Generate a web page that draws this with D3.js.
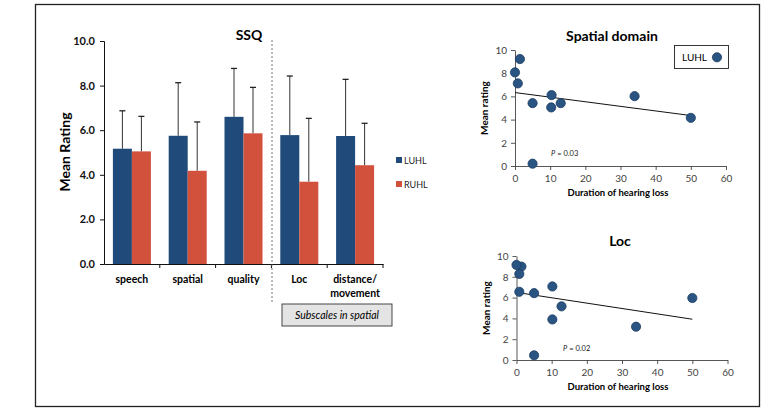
<!DOCTYPE html>
<html><head><meta charset="utf-8">
<script src="https://cdn.jsdelivr.net/npm/d3@7"></script>
<style>body{margin:0;background:#fff}svg{display:block}text{font-family:Lato,"Open Sans",sans-serif}</style>
</head><body><svg id="c" width="770" height="414"></svg>
<script>
// Bar chart data
const categories = ["speech","spatial","quality","Loc","distance/movement"];
const seriesNames = ["LUHL","RUHL"];
const luhlMeans = [5.17,5.75,6.6,5.78,5.74];
const ruhlMeans = [5.05,4.18,5.86,3.69,4.43];
const luhlErrTop = [6.87,8.13,8.77,8.43,8.28];
const ruhlErrTop = [6.62,6.37,7.92,6.53,6.31];
const barTicks = [0,2,4,6,8,10];

// Scatter: Spatial domain
const spatialDur = [0,1.4,0.8,5,10.4,10.3,13,34,50,5];
const spatialRating = [8.07,9.22,7.12,5.42,6.11,5.05,5.42,6.02,4.15,0.2];
const spatialTrend = [[0,6.33],[50,4.35]];
// Scatter: Loc
const locDur = [1.4,0,0.8,0.8,5,10.2,12.8,10.2,34,50,5];
const locRating = [8.98,9.14,8.28,6.56,6.43,7.07,5.16,3.9,3.2,5.96,0.45];
const locTrend = [[0,6.5],[50,3.92]];
const scatterXTicks = [0,10,20,30,40,50,60];
const scatterYTicks = [0,2,4,6,8,10];

const colors = {LUHL:"#1f4a7a", RUHL:"#d1513d"};
const svg = d3.select("#c");

// outer frame
svg.append("rect").attr("x",35.5).attr("y",4.5).attr("width",724).attr("height",402)
  .attr("fill","none").attr("stroke","#222").attr("stroke-width",1.3);

// ---------- Bar chart ----------
const bx = d3.scaleBand().domain(categories).range([104,383]);
const by = d3.scaleLinear().domain([0,10]).range([264,41]);
const inner = d3.scaleBand().domain(seriesNames).range([0,38]);
const pairOff = (bx.bandwidth()-38)/2;

const yAx = svg.append("g").attr("transform","translate(104,0)")
  .call(d3.axisLeft(by).tickValues(barTicks).tickFormat(d3.format(".1f")).tickSizeOuter(0).tickSize(4));
yAx.selectAll("text").attr("font-size",11).attr("font-weight","bold").attr("fill","#111").attr("dx",-2);
yAx.selectAll("line,path").attr("stroke","#111");

const xAx = svg.append("g").attr("transform","translate(0,264)")
  .call(d3.axisBottom(bx).tickSize(0).tickFormat(""));
xAx.select("path").attr("stroke","#111");
// category tick marks at band boundaries
svg.append("g").selectAll("line").data(categories).join("line")
  .attr("x1",d=>bx(d)+bx.bandwidth()).attr("x2",d=>bx(d)+bx.bandwidth())
  .attr("y1",264).attr("y2",268).attr("stroke","#111");

const barData = [];
categories.forEach((c,i)=>{
  barData.push({c,s:"LUHL",v:luhlMeans[i],e:luhlErrTop[i]});
  barData.push({c,s:"RUHL",v:ruhlMeans[i],e:ruhlErrTop[i]});
});
const bg = svg.append("g");
bg.selectAll("line.err").data(barData).join("line").attr("class","err")
  .attr("x1",d=>bx(d.c)+pairOff+inner(d.s)+inner.bandwidth()/2)
  .attr("x2",d=>bx(d.c)+pairOff+inner(d.s)+inner.bandwidth()/2)
  .attr("y1",d=>by(d.v)).attr("y2",d=>by(d.e)).attr("stroke","#333").attr("stroke-width",1);
bg.selectAll("line.cap").data(barData).join("line").attr("class","cap")
  .attr("x1",d=>bx(d.c)+pairOff+inner(d.s)+inner.bandwidth()/2-3)
  .attr("x2",d=>bx(d.c)+pairOff+inner(d.s)+inner.bandwidth()/2+3)
  .attr("y1",d=>by(d.e)).attr("y2",d=>by(d.e)).attr("stroke","#222").attr("stroke-width",1.3);
bg.selectAll("rect").data(barData).join("rect")
  .attr("x",d=>bx(d.c)+pairOff+inner(d.s)).attr("width",inner.bandwidth())
  .attr("y",d=>by(d.v)).attr("height",d=>by(0)-by(d.v)).attr("fill",d=>colors[d.s]);

// category labels
const labG = svg.append("g");
categories.forEach(c=>{
  const cx = bx(c)+bx.bandwidth()/2;
  const lines = c==="distance/movement" ? ["distance/","movement"] : [c];
  lines.forEach((t,k)=>{
    labG.append("text").attr("x",cx).attr("y",283+k*14).attr("text-anchor","middle")
      .attr("font-size",10.5).attr("font-weight","bold").text(t);
  });
});

// dashed separator
svg.append("line").attr("x1",272).attr("x2",272).attr("y1",40).attr("y2",303)
  .attr("stroke","#666").attr("stroke-dasharray","2,2").attr("stroke-width",0.9);

// title
svg.append("text").attr("x",249).attr("y",40).attr("text-anchor","middle").attr("font-size",14).attr("font-weight","bold").text("SSQ");
// y title
svg.append("text").attr("transform","translate(70,152) rotate(-90)").attr("text-anchor","middle")
  .attr("font-size",14).attr("font-weight","bold").text("Mean Rating");

// subscales box
svg.append("rect").attr("x",282).attr("y",304).attr("width",110).attr("height",22)
  .attr("fill","#e4e4e4").attr("stroke","#333").attr("stroke-width",0.9);
svg.append("text").attr("x",337).attr("y",319).attr("text-anchor","middle").attr("font-size",10.5)
  .attr("font-style","italic").text("Subscales in spatial");

// legend
seriesNames.forEach((s,i)=>{
  svg.append("rect").attr("x",396).attr("y",157+i*24).attr("width",6).attr("height",6).attr("fill",colors[s]);
  svg.append("text").attr("x",404).attr("y",163.5+i*24).attr("font-size",9).attr("fill","#222").text(s);
});

// ---------- Scatter plots ----------
function scatter(opt){
  const x = d3.scaleLinear().domain([0,60]).range([opt.x0,opt.x1]);
  const y = d3.scaleLinear().domain([0,10]).range([opt.y0,opt.y1]);
  const g = svg.append("g");
  const ya = g.append("g").attr("transform",`translate(${opt.x0},0)`)
    .call(d3.axisLeft(y).tickValues(scatterYTicks).tickSize(4).tickSizeOuter(0));
  const xa = g.append("g").attr("transform",`translate(0,${opt.y0})`)
    .call(d3.axisBottom(x).tickValues(scatterXTicks).tickSize(4).tickSizeOuter(0));
  [ya,xa].forEach(a=>{
    a.selectAll("path,line").attr("stroke","#444").attr("stroke-width",0.9);
    a.selectAll("text").attr("font-size",10).attr("fill","#444").attr("font-family","'Open Sans',sans-serif");
  });
  ya.selectAll("text").attr("dx",-1);
  xa.selectAll("text").attr("dy","0.85em");
  g.append("line").attr("x1",x(opt.trend[0][0])).attr("y1",y(opt.trend[0][1]))
    .attr("x2",x(opt.trend[1][0])).attr("y2",y(opt.trend[1][1])).attr("stroke","#111").attr("stroke-width",1);
  g.selectAll("circle").data(opt.xs.map((v,i)=>[v,opt.ys[i]])).join("circle")
    .attr("cx",d=>x(d[0])).attr("cy",d=>y(d[1])).attr("r",4.6)
    .attr("fill","#2a5482").attr("stroke","#1c3d63").attr("stroke-width",0.8);
  g.append("text").attr("x",opt.titleX).attr("y",opt.titleY).attr("text-anchor","middle")
    .attr("font-size",14).attr("font-weight","bold").text(opt.title);
  g.append("text").attr("x",618).attr("y",opt.y0+30).attr("text-anchor","middle")
    .attr("font-size",9.5).attr("font-weight","bold").text("Duration of hearing loss");
  g.append("text").attr("transform",`translate(${opt.x0-27},${(opt.y0+opt.y1)/2}) rotate(-90)`)
    .attr("text-anchor","middle").attr("font-size",10).attr("font-weight","bold").text("Mean rating");
  const pt = g.append("text").attr("x",opt.px).attr("y",opt.py).attr("font-size",7.5).attr("fill","#222");
  pt.append("tspan").attr("font-style","italic").text("P");
  pt.append("tspan").text(" = "+opt.p);
  return {x,y,g};
}

scatter({x0:515,x1:726,y0:166,y1:50,xs:spatialDur,ys:spatialRating,trend:spatialTrend,
  title:"Spatial domain",titleX:612,titleY:41,px:551,py:156,p:"0.03"});
scatter({x0:516.5,x1:727.5,y0:360,y1:256,xs:locDur,ys:locRating,trend:locTrend,
  title:"Loc",titleX:620,titleY:246,px:563,py:351,p:"0.02"});

// legend in Spatial domain plot
svg.append("rect").attr("x",674.5).attr("y",45.5).attr("width",54).attr("height",23)
  .attr("fill","#fff").attr("stroke","#222").attr("stroke-width",0.9);
svg.append("text").attr("x",682).attr("y",61).attr("font-size",10).attr("font-family","'Open Sans',sans-serif").text("LUHL");
svg.append("circle").attr("cx",717).attr("cy",57.3).attr("r",4.6).attr("fill","#2a5482").attr("stroke","#1c3d63").attr("stroke-width",0.8);
</script></body></html>
